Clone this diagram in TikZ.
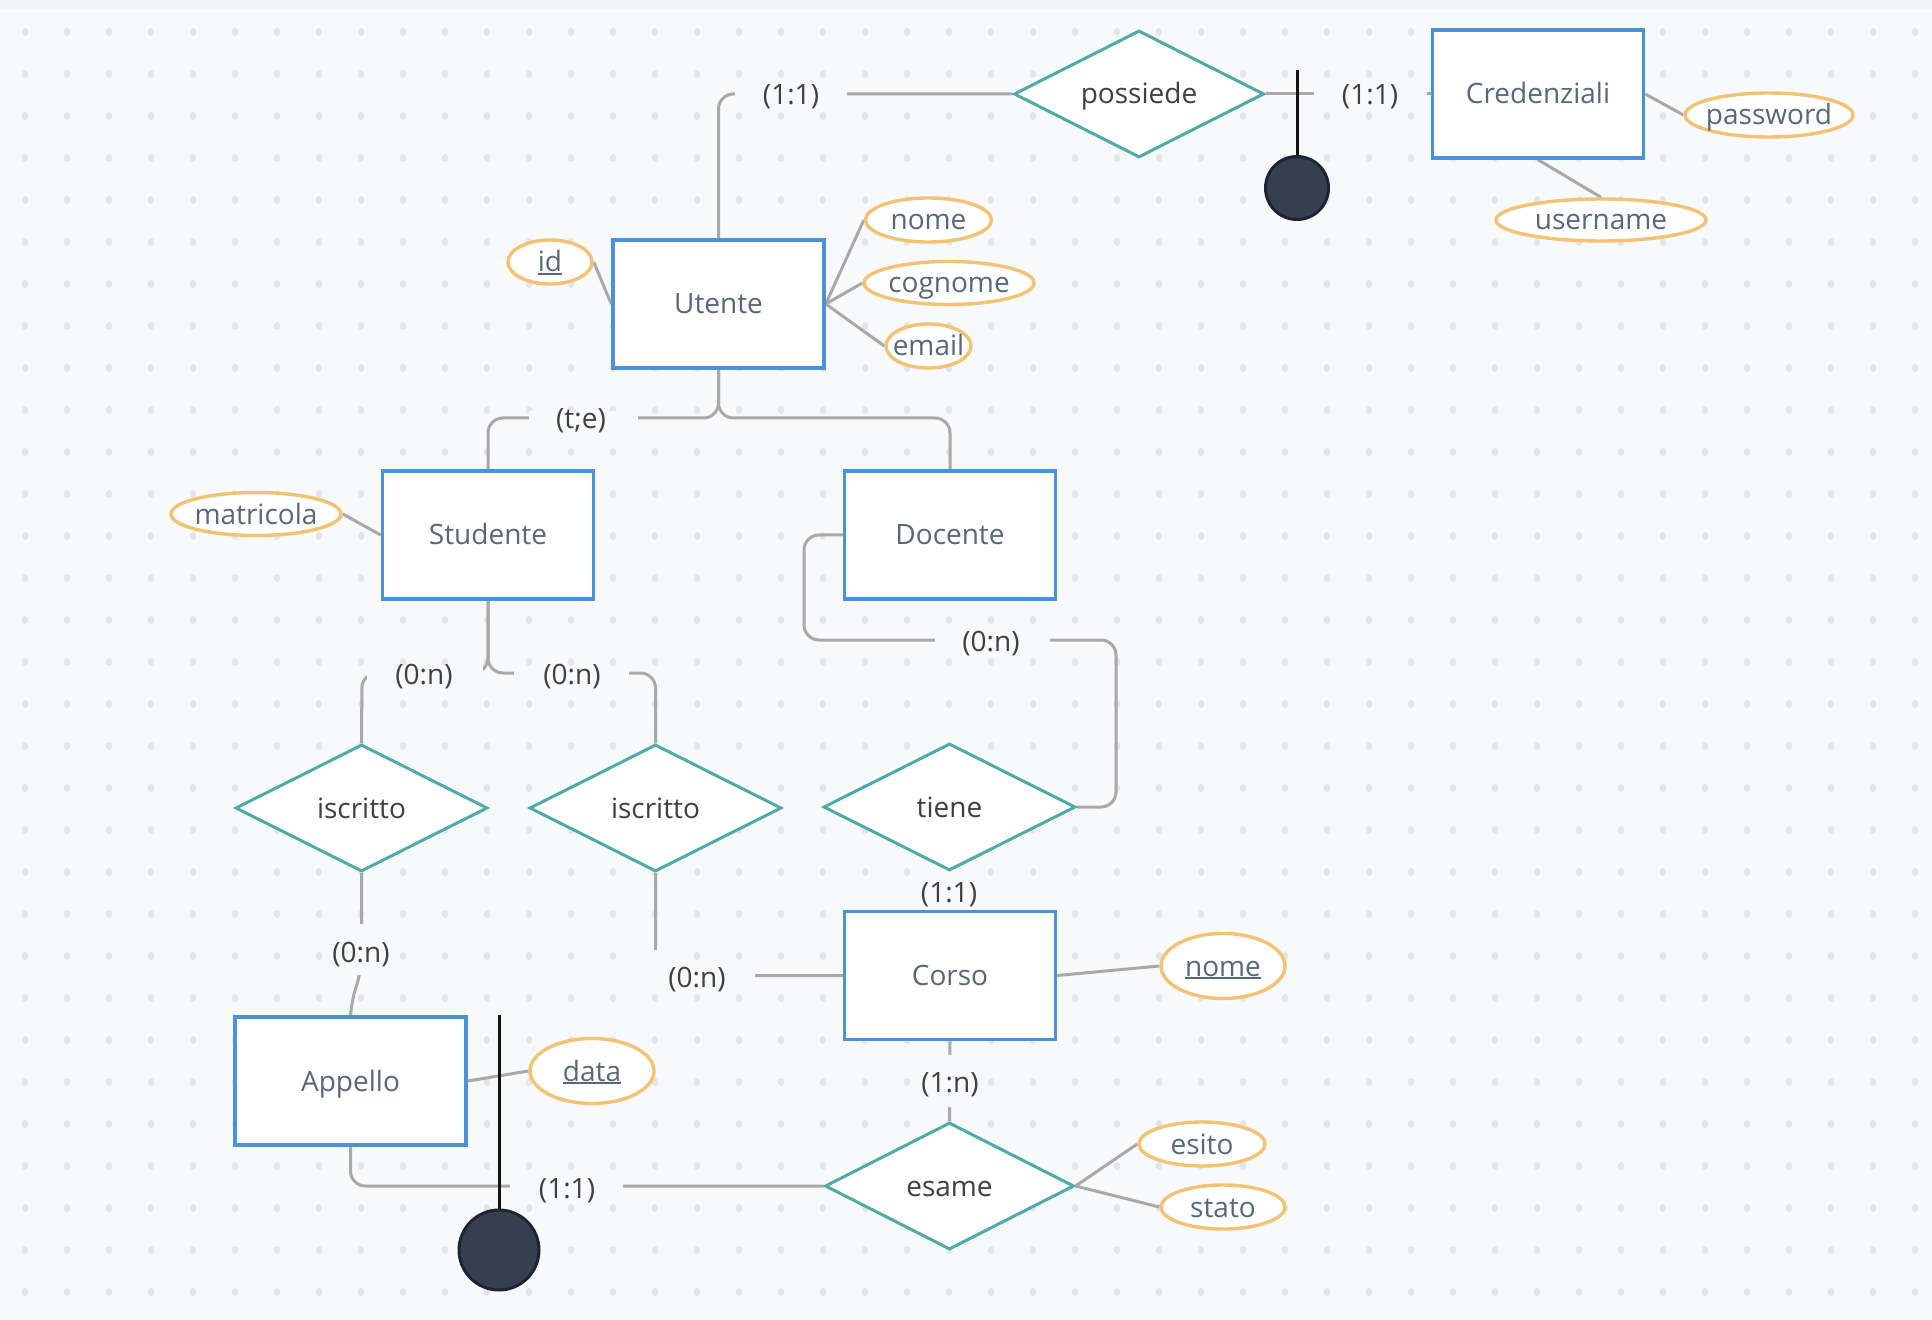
\documentclass[tikz,border=0pt]{standalone}
\usepackage{fontspec}
\setmainfont{Open Sans}
\usetikzlibrary{shapes.geometric}

\pgfdeclarelayer{grid}
\pgfdeclarelayer{edges}
\pgfdeclarelayer{gaps}
\pgfsetlayers{grid,edges,gaps,main}

\definecolor{paper}{HTML}{F8F9FB}
\definecolor{topband}{HTML}{F3F4F6}
\definecolor{dotc}{HTML}{E4E5E9}
\definecolor{entblue}{HTML}{4A92DA}
\definecolor{relteal}{HTML}{4FAAAA}
\definecolor{attrorange}{HTML}{F3C272}
\definecolor{linegray}{HTML}{A9A9A9}
\definecolor{slate}{HTML}{58687B}
\definecolor{ink}{HTML}{404040}
\definecolor{knob}{HTML}{363F4F}
\definecolor{knobedge}{HTML}{1E2431}

% underlined key attribute
\newlength\ulwidth
\newcommand\keyattr[1]{\setbox0\hbox{#1}\setlength\ulwidth{\wd0}\rlap{\box0}\rule[-1.6pt]{\ulwidth}{0.9pt}}

\begin{document}
\begin{tikzpicture}[x=0.5pt, y=-0.5pt,
  font=\fontsize{14}{16}\selectfont,
  every node/.style={text height=12pt, text depth=2pt},
  entity/.style={draw=entblue, line width=1.75pt, fill=white, minimum width=105.5pt,
    minimum height=64pt, inner sep=0pt, text=slate},
  relation/.style={diamond, draw=relteal, line width=1.5pt, fill=white, aspect=2,
    inner sep=0pt, minimum width=126pt, minimum height=63.5pt, text=ink},
  attr/.style={ellipse, draw=attrorange, line width=1.7pt, fill=white, inner sep=0pt, text=slate},
  conn/.style={draw=linegray, line width=1.5pt, rounded corners=7.5pt},
  card/.style={text=ink, inner sep=0pt},
  weakid/.style={draw=black!92, line width=1.5pt},
  knobnode/.style={circle, fill=knob, draw=knobedge, line width=1.5pt, inner sep=0pt}]

% canvas and dot grid
\begin{pgfonlayer}{grid}
  \useasboundingbox (0,0) rectangle (1932,1320);
  \fill[paper] (0,0) rectangle (1932,1320);
  \fill[topband] (0,0) rectangle (1932,9);
  \foreach \i in {0,...,45}{
    \foreach \j in {0,...,30}{
      \fill[dotc] (25+42*\i,32+42*\j) ellipse [x radius=1.65pt, y radius=2pt];
    }
  }
\end{pgfonlayer}

% entities
\node[entity] (utente) at (718.5,304) {Utente};
\node[entity] (credenziali) at (1538,94) {Credenziali};
\node[entity] (studente) at (488,535) {Studente};
\node[entity] (docente) at (950,535) {Docente};
\node[entity] (corso) at (950,975.5) {Corso};
\node[entity, minimum width=115.5pt] (appello) at (350.5,1081) {Appello};

% relationships
\node[relation, minimum width=125pt] (possiede) at (1139,94) {possiede};
\node[relation] (iscrittoA) at (361.5,808) {iscritto};
\node[relation] (iscrittoB) at (655.5,808) {iscritto};
\node[relation] (tiene) at (949.5,807) {tiene};
\node[relation, minimum width=124.5pt] (esame) at (949.5,1186) {esame};

% attributes
\node[attr, minimum width=42pt, minimum height=22pt] (id) at (550,262) {\makebox[0pt]{\keyattr{id}}};
\node[attr, minimum width=63pt, minimum height=22pt] (nome) at (928.5,220) {\makebox[0pt]{nome}};
\node[attr, minimum width=85pt, minimum height=21.5pt] (cognome) at (949,283) {\makebox[0pt]{cognome}};
\node[attr, minimum width=42.5pt, minimum height=22pt] (email) at (928.5,346) {\makebox[0pt]{email}};
\node[attr, minimum width=84pt, minimum height=22pt] (password) at (1769,115) {\makebox[0pt]{password}};
\node[attr, minimum width=105pt, minimum height=21pt] (username) at (1601,220) {\makebox[0pt]{username}};
\node[attr, minimum width=85pt, minimum height=21.5pt] (matricola) at (256,514) {\makebox[0pt]{matricola}};
\node[attr, minimum width=62pt, minimum height=32.5pt] (data) at (592,1071) {\makebox[0pt]{\keyattr{data}}};
\node[attr, minimum width=62pt, minimum height=32.5pt] (nomecorso) at (1223,966) {\makebox[0pt]{\keyattr{nome}}};
\node[attr, minimum width=63pt, minimum height=22pt] (esito) at (1202,1144) {\makebox[0pt]{esito}};
\node[attr, minimum width=62pt, minimum height=22pt] (stato) at (1223,1207) {\makebox[0pt]{stato}};

% connectors
\begin{pgfonlayer}{edges}
  \draw[conn] (utente.north) |- (possiede.west);
  \draw[conn] (possiede.east) -- (credenziali.west);
  \draw[conn] (id.east) -- (utente.west);
  \draw[conn] (utente.east) -- (nome.west);
  \draw[conn] (utente.east) -- (cognome.west);
  \draw[conn] (utente.east) -- (email.west);
  \draw[conn] (credenziali.east) -- (password.west);
  \draw[conn] (credenziali.south) -- (username.north);
  \draw[conn] (utente.south) |- (488,418) -- (studente.north);
  \draw[conn] (utente.south) |- (950,418) -- (docente.north);
  \draw[conn] (matricola.east) -- (studente.west);
  \draw[conn] (studente.south) |- (362,673) -- (iscrittoA.north);
  \draw[conn] (studente.south) |- (655.5,673) -- (iscrittoB.north);
  \draw[conn] (docente.west) -| (804,640) -| (1116,807) -- (tiene.east);
  \draw[conn] (tiene.south) -- (corso.north);
  \draw[conn] (iscrittoA.south) -- (361.5,970) -- (351,1003) -- (appello.north);
  \draw[conn] (iscrittoB.south) |- (corso.west);
  \draw[conn] (corso.east) -- (nomecorso.west);
  \draw[conn] (corso.south) -- (esame.north);
  \draw[conn] (appello.south) |- (esame.west);
  \draw[conn] (appello.east) -- (data.west);
  \draw[conn] (esame.east) -- (esito.west);
  \draw[conn] (esame.east) -- (stato.west);
\end{pgfonlayer}

% breaks in the connectors behind the cardinalities
\begin{pgfonlayer}{gaps}
  \fill[paper] (735,87) rectangle (847,101);
  \fill[paper] (1313.5,87) rectangle (1427,101);
  \fill[paper] (528.7,411) rectangle (637.7,425);
  \fill[paper] (367,666) rectangle (483,680);
  \fill[paper] (513.6,666) rectangle (628.8,680);
  \fill[paper] (935,633) rectangle (1050,647);
  \fill[paper] (942,866) rectangle (958,916);
  \fill[paper] (352,924) rectangle (371,975);
  \fill[paper] (647,950) rectangle (664,984);
  \fill[paper] (647,969) rectangle (755,984);
  \fill[paper] (942,1055) rectangle (958,1107);
  \fill[paper] (509.5,1179) rectangle (623,1194);
\end{pgfonlayer}

% cardinalities
\node[card] (cA) at (791,95) {(1:1)};
\node[card] (cB) at (1370,95) {(1:1)};
\node[card] (cC) at (581,419) {(t;e)};
\node[card] (cD) at (424,674) {(0:n)};
\node[card] (cE) at (572,674) {(0:n)};
\node[card] (cF) at (991,641) {(0:n)};
\node[card] (cG) at (949,892) {(1:1)};
\node[card] (cH) at (361,952) {(0:n)};
\node[card] (cI) at (697,977) {(0:n)};
\node[card] (cJ) at (950,1082) {(1:n)};
\node[card] (cK) at (567,1188) {(1:1)};

% external identifiers
\node[knobnode, minimum size=31.5pt] (knobA) at (1297,188) {};
\coordinate (knobAtop) at (1297,70);
\draw[weakid] (knobAtop) -- (knobA.north);
\node[knobnode, minimum size=40pt] (knobB) at (499,1250) {};
\coordinate (knobBtop) at (499,1015);
\draw[weakid] (knobBtop) -- (knobB.north);

\end{tikzpicture}
\end{document}
